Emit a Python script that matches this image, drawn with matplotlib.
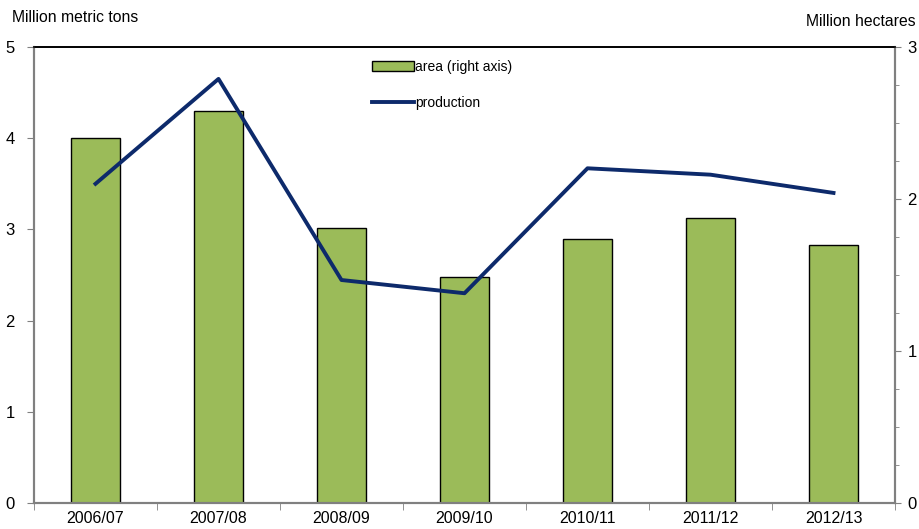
import numpy as np
import matplotlib
matplotlib.use('Agg')
import matplotlib.pyplot as plt
from matplotlib.ticker import MultipleLocator, NullFormatter

plt.rcParams['font.family'] = ['Liberation Sans', 'DejaVu Sans']

# data
years = ['2006/07', '2007/08', '2008/09', '2009/10', '2010/11', '2011/12', '2012/13']
area = [2.40, 2.58, 1.81, 1.49, 1.74, 1.875, 1.70]        # million hectares (right)
production = [3.50, 4.65, 2.445, 2.30, 3.67, 3.60, 3.40]  # million metric tons (left)

fig = plt.figure(figsize=(9.19, 5.29), dpi=100)
ax = fig.add_axes([34/919, 26/529, (895-34)/919, (503-47)/529])
ax2 = ax.twinx()

x = np.arange(len(years))
bars = ax2.bar(x, area, width=0.4, color='#9bbb59', edgecolor='black',
               linewidth=1.0, label='area (right axis)', zorder=2)
line, = ax.plot(x, production, color='#0d2a6b', linewidth=2.8,
                label='production', zorder=3)
ax.set_zorder(ax2.get_zorder() + 1)
ax.patch.set_visible(False)

ax.set_xlim(-0.5, len(years) - 0.5)
ax.set_ylim(0, 5)
ax2.set_ylim(0, 3)
ax.set_yticks(range(0, 6))
ax2.set_yticks(range(0, 4))
ax2.yaxis.set_minor_locator(MultipleLocator(0.25))
ax2.yaxis.set_minor_formatter(NullFormatter())

ax.set_xticks(x)
ax.set_xticklabels(years)
ax.set_xticks(np.arange(-0.5, len(years)), minor=True)
ax.tick_params(axis='x', which='major', length=0, labelsize=11.5, pad=6)
ax.tick_params(axis='x', which='minor', length=5, color='#808080', direction='out')
ax.tick_params(axis='y', length=5, color='#808080', labelsize=12, pad=9)
ax2.tick_params(axis='y', which='major', length=4, color='#808080', labelsize=12, pad=5)
ax2.tick_params(axis='y', which='minor', length=3, color='#808080')

for a in (ax, ax2):
    for s in ('left', 'right', 'bottom'):
        a.spines[s].set_color('#808080')
        a.spines[s].set_linewidth(1.5)
    a.spines['top'].set_color('black')
    a.spines['top'].set_linewidth(1.2)

fig.text(12/919, 1 - 18/529, 'Million metric tons', fontsize=11.3, va='center')
fig.text(916/919, 1 - 21/529, 'Million hectares', fontsize=11.3, va='center', ha='right')

leg = ax.legend([bars, line], ['area (right axis)', 'production'],
                loc='upper left', bbox_to_anchor=(0.378, 1.0), frameon=False,
                fontsize=10, handlelength=3.0, handletextpad=0.1, labelspacing=1.6)

fig.savefig('out.png', dpi=100)
